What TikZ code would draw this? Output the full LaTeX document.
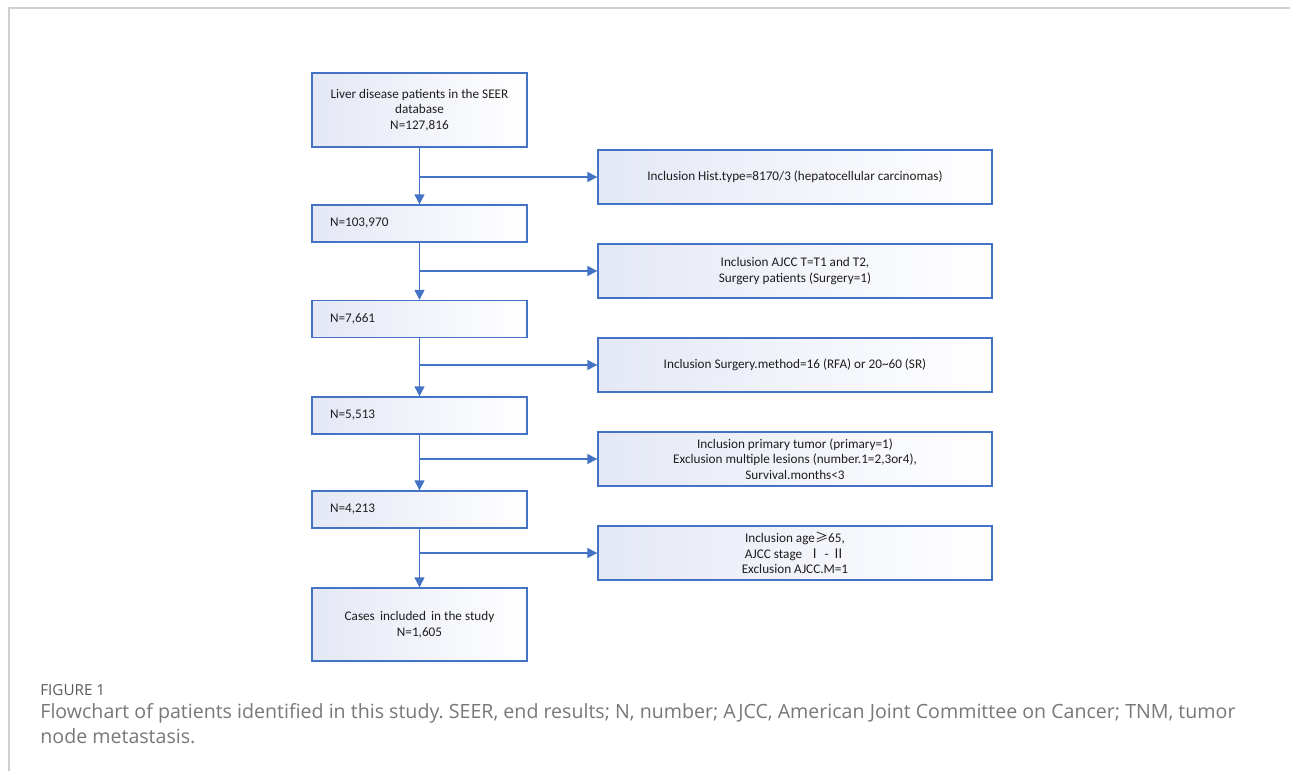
\documentclass[tikz,border=0pt]{standalone}
\usepackage{fontspec}
\setmainfont{Carlito}
\newfontfamily\capfont{Open Sans}
\newfontfamily\cjk{Noto Sans CJK SC}
\usetikzlibrary{arrows.meta}
\definecolor{boxblue}{RGB}{68,114,196}
\definecolor{boxtint}{RGB}{228,232,245}
\definecolor{txt}{RGB}{30,30,30}
\definecolor{framegray}{RGB}{208,208,208}
\definecolor{capgray}{RGB}{120,120,120}
\frenchspacing
\begin{document}
\begin{tikzpicture}[x=0.5pt,y=-0.5pt,
  box/.style={draw=boxblue, line width=0.7pt, left color=boxtint, right color=white,
    text=txt, font=\fontsize{6.6}{7.8}\selectfont, inner sep=0pt, align=center},
  leftbox/.style={box, minimum width=107.5pt},
  narrowbox/.style={leftbox, minimum height=18.5pt, text width=89.5pt, align=left},
  rightbox/.style={box, minimum width=197pt, minimum height=27pt},
  arr/.style={draw=boxblue, line width=0.7pt, -{Triangle[length=5pt,width=5pt]}}]
\useasboundingbox (0,0) rectangle (1290,771);
\fill[white] (0,0) rectangle (1290,771);
\draw[framegray, line width=1pt] (9,771) -- (9,8) -- (1290,8);

\node[leftbox, minimum height=37pt] (b1) at (419.5,110)
  {Liver disease patients in the SEER\\database\\N=127,816};
\node[narrowbox] (b2) at (419.5,223.5) {N=103,970};
\node[narrowbox] (b3) at (419.5,319) {N=7,661};
\node[narrowbox] (b4) at (419.5,415.5) {N=5,513};
\node[narrowbox] (b5) at (419.5,509.5) {N=4,213};
\node[leftbox, minimum height=36.5pt] (b6) at (419.5,624.5)
  {Cases\, included\, in the study\\N=1,605};

\node[rightbox] (r1) at (795,177) {Inclusion Hist.type=8170/3 (hepatocellular carcinomas)};
\node[rightbox] (r2) at (795,271) {Inclusion AJCC T=T1 and T2,\\Surgery patients (Surgery=1)};
\node[rightbox] (r3) at (795,365) {Inclusion Surgery.method=16 (RFA) or 20\textasciitilde60 (SR)};
\node[rightbox] (r4) at (795,459) {Inclusion primary tumor (primary=1)\\Exclusion multiple lesions (number.1=2,3or4),\\Survival.months<3};
\node[rightbox] (r5) at (795,553) {Inclusion age{\cjk ≥}65,\\AJCC stage\ \ {\cjk Ⅰ - Ⅱ}\\Exclusion AJCC.M=1};

\foreach \a/\b in {b1/b2,b2/b3,b3/b4,b4/b5,b5/b6}
  \draw[arr] (\a.south) -- (\b.north);
\foreach \a/\r in {b1/r1,b2/r2,b3/r3,b4/r4,b5/r5}
  \draw[arr] (\a.south |- \r.west) -- (\r.west);

\node[anchor=west, text=capgray!75!black, font=\capfont\fontsize{7.6}{8}\selectfont, inner sep=0pt] (fig) at (40,690) {FIGURE 1};
\node[anchor=north west, text=capgray, font=\capfont\fontsize{9.8}{12.5}\selectfont, inner sep=0pt, align=left] (cap) at (40,703)
  {Flowchart of patients identified in this study. SEER, end results; N, number; AJCC, American Joint Committee on Cancer; TNM, tumor\\node metastasis.};
\end{tikzpicture}
\end{document}
